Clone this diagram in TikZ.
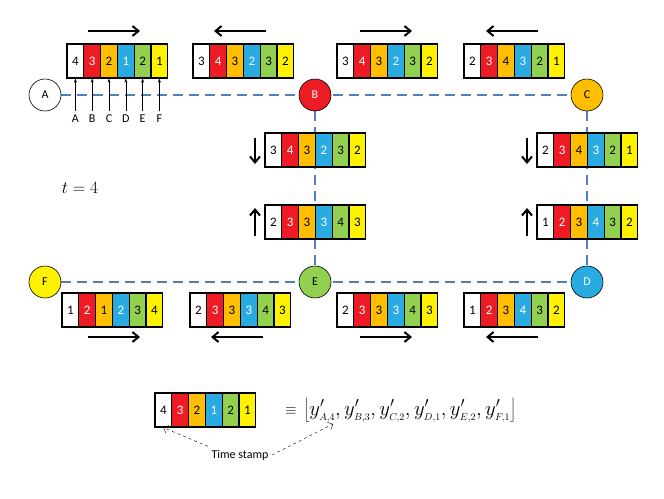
\documentclass[tikz,border=0pt]{standalone}
\usepackage{fontspec}
\setsansfont{Carlito}
\usetikzlibrary{calc,positioning}
\definecolor{cA}{HTML}{FFFFFF}
\definecolor{cB}{HTML}{ED1C24}
\definecolor{cC}{HTML}{FFBF00}
\definecolor{cD}{HTML}{29ABE2}
\definecolor{cE}{HTML}{92D050}
\definecolor{cF}{HTML}{FFF200}
\definecolor{link}{HTML}{4F81BD}
\tikzset{
  cell/.style={draw=black,line width=1.2pt,minimum width=16.8pt,minimum height=34pt,inner sep=0pt,font=\sffamily\fontsize{13}{13}\selectfont},
  site/.style={circle,draw=black,line width=0.6pt,minimum size=32pt,inner sep=0pt,font=\sffamily\fontsize{12}{12}\selectfont},
  dir/.style={line width=2pt,-{Straight Barb[length=6pt,width=10pt]}},
  linkline/.style={link,line width=2pt,dash pattern=on 10pt off 6pt}
}
\usetikzlibrary{arrows.meta}
% one time-stamp vector: name, left, top, entries
\newcommand{\stampvec}[4]{%
  \foreach \v [count=\i] in {#4}{
    \ifcase\i\or\def\cc{cA}\def\tc{black}\or\def\cc{cB}\def\tc{white}\or\def\cc{cC}\def\tc{black}%
    \or\def\cc{cD}\def\tc{white}\or\def\cc{cE}\def\tc{black}\or\def\cc{cF}\def\tc{black}\fi
    \node[cell,fill=\cc,text=\tc] (#1-\i) at (#2+\i*16.8-8.4,#3+17) {\v};
  }}
\begin{document}
\begin{tikzpicture}[x=1pt,y=-1pt]
\useasboundingbox (0,0) rectangle (664,498);
% links
\draw[linkline] (45,95) -- (587,95);
\draw[linkline] (45,282) -- (587,282);
\draw[linkline] (315,95) -- (315,282);
\draw[linkline] (587,95) -- (587,282);
% sites
\node[site,fill=white] (A) at (45,95) {A};
\node[site,fill=cB,text=white] (B) at (315,95) {B};
\node[site,fill=cC] (C) at (587,95) {C};
\node[site,fill=cD,text=white] (D) at (587,282) {D};
\node[site,fill=cE] (E) at (315,282) {E};
\node[site,fill=cF] (F) at (45,282) {F};
% vectors on the links
\stampvec{v1}{67}{44}{4,3,2,1,2,1}
\stampvec{v2}{193}{44}{3,4,3,2,3,2}
\stampvec{v3}{337}{44}{3,4,3,2,3,2}
\stampvec{v4}{464}{44}{2,3,4,3,2,1}
\stampvec{v5}{265}{133}{3,4,3,2,3,2}
\stampvec{v6}{537}{133}{2,3,4,3,2,1}
\stampvec{v7}{265}{205}{2,3,3,3,4,3}
\stampvec{v8}{537}{205}{1,2,3,4,3,2}
\stampvec{v9}{62}{293}{1,2,1,2,3,4}
\stampvec{v10}{190}{293}{2,3,3,3,4,3}
\stampvec{v11}{337}{293}{2,3,3,3,4,3}
\stampvec{v12}{464}{293}{1,2,3,4,3,2}
% directions
\draw[dir] (88,31) -- (140,31);
\draw[dir] (266,31) -- (214,31);
\draw[dir] (360,31) -- (412,31);
\draw[dir] (538,31) -- (486,31);
\draw[dir] (255,138) -- (255,164);
\draw[dir] (527,138) -- (527,164);
\draw[dir] (255,236) -- (255,208);
\draw[dir] (527,236) -- (527,208);
\draw[dir] (88,337) -- (140,337);
\draw[dir] (263,337) -- (211,337);
\draw[dir] (360,337) -- (412,337);
\draw[dir] (538,337) -- (486,337);
% entry labels
\foreach \s [count=\i] in {A,B,C,D,E,F}{
  \node[font=\sffamily\fontsize{12}{12}\selectfont] (lab\s) at ($(v1-\i.south)+(0,40)$) {\s};
  \draw[-{Stealth[length=4pt]}] (lab\s.north) -- (v1-\i.south);
}
\node[font=\fontsize{17}{17}\selectfont] (time) at (80,188) {$t=4$};
% legend
\stampvec{lg}{155}{393}{4,3,2,1,2,1}
\node[font=\fontsize{14}{14}\selectfont] (equiv) at (291,411) {$\equiv$};
\node[anchor=west,font=\fontsize{20}{20}\selectfont] (formula) at (300,410)
  {$\left\lfloor y'_{\scriptscriptstyle A,4}, y'_{\scriptscriptstyle B,3}, y'_{\scriptscriptstyle C,2}, y'_{\scriptscriptstyle D,1}, y'_{\scriptscriptstyle E,2}, y'_{\scriptscriptstyle F,1}\right\rfloor$};
\node[font=\sffamily\fontsize{12}{12}\selectfont] (stamp) at (240,455) {Time stamp};
\draw[dashed,-{Straight Barb[length=4pt]}] (stamp.north west) -- (lg-1.south);
\draw[dashed,-{Straight Barb[length=4pt]}] (stamp.east) -- (333,424);
\end{tikzpicture}
\end{document}
